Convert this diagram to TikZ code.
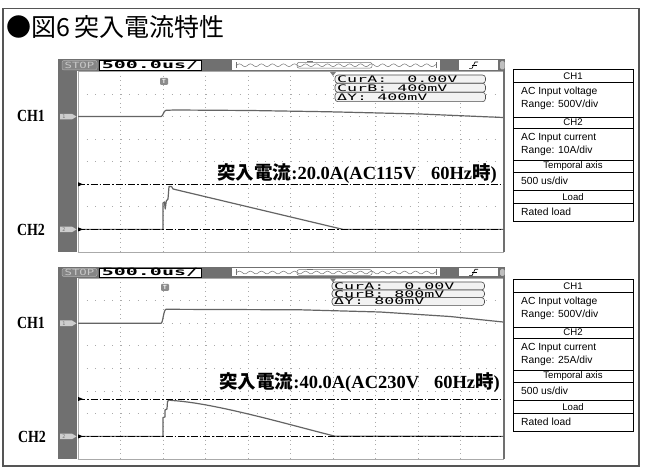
\documentclass[tikz,border=0pt]{standalone}
\usepackage{fontspec}
\usepackage{graphicx}
\setmainfont{Liberation Serif}
\newfontfamily\jpfont{Noto Sans CJK JP}
\newfontfamily\lcdfont{DejaVu Sans Mono}
\newfontfamily\tabfont{Liberation Sans}
\definecolor{frm}{RGB}{85,85,85}
\definecolor{scdark}{RGB}{112,112,112}
\definecolor{gridc}{RGB}{170,170,170}
\definecolor{trc}{RGB}{100,100,100}
\definecolor{tagc}{RGB}{205,205,205}
\definecolor{roc}{RGB}{242,242,242}
\newcommand\lcd[1]{\scalebox{1.85}[1]{\lcdfont\fontsize{9}{9}\selectfont #1}}
\newcommand\lcdb[1]{\scalebox{2.0}[1]{\lcdfont\bfseries\fontsize{10}{10}\selectfont #1}}
\newcommand\lcds[1]{\scalebox{1.45}[1]{\lcdfont\fontsize{8.5}{8.5}\selectfont #1}}
\tikzset{
  gridx/.style={gridc, line width=0.9pt, dash pattern=on 1pt off 7.5pt},
  gridy/.style={gridc, line width=0.9pt, dash pattern=on 1pt off 3.5pt},
  trace/.style={trc, line width=1.2pt, line join=round},
  cursorln/.style={black, line width=0.7pt, dash pattern=on 7pt off 2pt on 1.5pt off 2pt},
  rdbox/.style={draw=black!70, fill=roc, rounded corners=3pt, line width=0.6pt},
  rdtext/.style={inner sep=0, anchor=west},
  tabhead/.style={font=\tabfont\fontsize{9.6}{9.6}\selectfont, inner sep=0},
  tabtext/.style={font=\tabfont\fontsize{10.3}{10.3}\selectfont, inner sep=0, anchor=west},
  chlabel/.style={font=\bfseries\fontsize{17}{17}\selectfont, inner sep=0},
  inrush/.style={inner sep=0, anchor=east, font=\bfseries\fontsize{18.5}{18.5}\selectfont},
  tagnum/.style={inner sep=0, font=\lcdfont\fontsize{5}{5}\selectfont, text=black!55},
  trgmark/.style={fill=black!45, text=white, rounded corners=1pt, minimum width=8pt, minimum height=7pt, inner sep=0, font=\tabfont\bfseries\fontsize{6}{6}\selectfont}
}
% scope screen: #1 suffix, #2 bar top, #3 grid top, #4 bottom
\newcommand\scopeframe[4]{%
  \fill[white] (77,#3) rectangle (503,#4);
  \pgfmathsetmacro\scgdy{(#4-#3)/8}
  \foreach \i in {1,...,9} {\draw[gridy] ({78+42.5*\i},#3) -- ({78+42.5*\i},#4);}
  \foreach \j in {1,...,7} {\draw[gridx] (78,{#3+\scgdy*\j}) -- (503,{#3+\scgdy*\j});}
  \draw[gridc, line width=0.6pt] (78,#3) rectangle (503,#4);
  \fill[scdark] (58,#2) rectangle (77,#4);
  \fill[scdark] (58,#2) rectangle (505,#3);
  \fill[scdark] (503,#2) rectangle (505,#4);
  \pgfmathsetmacro\scbmid{(#2+#3)/2}
  \draw[draw=black!30, fill=black!48, rounded corners=2pt, line width=0.5pt] (62,#2+1.5) rectangle (97,#3-1.5);
  \node[inner sep=0, text=black!22] (stop#1) at (79.5,\scbmid) {\lcds{STOP}};
  \draw[fill=white, draw=black, line width=0.6pt] (99,#2+1) rectangle (201,#3-1);
  \node[inner sep=0] (tb#1) at (150,\scbmid) {\lcdb{500.0us/}};
  \fill[white] (232,#2+1.5) rectangle (440,#3-1.5);
  \draw[black!55, line width=0.5pt, domain=236:436, samples=300, smooth] plot (\x, {\scbmid + 1.3*sin(\x*32.7)});
  \draw[black!55, line width=0.5pt] (236,\scbmid-3) -- (236,\scbmid+3) (436,\scbmid-3) -- (436,\scbmid+3);
  \draw[black!55, line width=0.5pt, rounded corners=2pt] (297,\scbmid-2.8) rectangle (372,\scbmid+2.8);
  \draw[black!55, line width=0.6pt] (307,#2+2) -- (313,#2+2) (310,#2+2) -- (310,\scbmid-2.8);
  \fill[white] (459,#2+1.5) rectangle (498,#3-1.5);
  \draw[black, line width=0.6pt] (469,\scbmid+3.2) -- (472,\scbmid+3.2) -- (475,\scbmid-3.2) -- (478,\scbmid-3.2);
  \draw[black, line width=0.6pt] (471.8,\scbmid) -- (476.5,\scbmid);
  \fill[black!25, rounded corners=1.5pt] (500,#2+2) rectangle (504.5,#3-2);
  \fill[black!50] (330,#3+0.5) -- (336,#3+0.5) -- (333,#3+4.5) -- cycle;
}
% channel tag on the dark bar: #1 name, #2 y, #3 digit
\newcommand\chtag[3]{%
  \fill[tagc] (60,#2-2.8) -- (72,#2-2.8) -- (76.5,#2) -- (72,#2+2.8) -- (60,#2+2.8) -- cycle;
  \node[tagnum] (#1) at (64,#2) {#3};
}
% info table: #1 suffix, #2 y shift, #3 CH2 range
\newcommand\infotable[3]{%
\begin{scope}[shift={(0,#2)}]
  \foreach \yy in {82,117,128.5,160,172,190,203} {\draw[black, line width=0.8pt] (513,\yy) -- (633,\yy);}
  \draw[black, line width=1pt] (513,70) rectangle (633,222);
  \node[tabhead] (hA#1) at (573,76.3) {CH1};
  \node[tabtext] (tA#1) at (521,92) {AC Input voltage};
  \node[tabtext] (tB#1) at (521,105) {Range: 500V/div};
  \node[tabhead] (hB#1) at (573,122.6) {CH2};
  \node[tabtext] (tC#1) at (521,137.5) {AC Input current};
  \node[tabtext] (tD#1) at (521,150.5) {Range: #3};
  \node[tabhead] (hC#1) at (573,166.3) {Temporal axis};
  \node[tabtext] (tE#1) at (521,180.8) {500 us/div};
  \node[tabhead] (hD#1) at (573,196.6) {Load};
  \node[tabtext] (tF#1) at (521,212) {Rated load};
\end{scope}}
\begin{document}
\begin{tikzpicture}[x=1pt,y=-1pt]
\useasboundingbox (0,0) rectangle (646,470);
\fill[white] (0,0) rectangle (646,470);
\draw[frm, line width=1.3pt] (3,8.5) rectangle (639,466);
\node[anchor=base west, inner sep=0, font=\jpfont\fontsize{25}{25}\selectfont] (title) at (6,37) {●図6\hspace{4pt}突入電流特性};

% ---------- upper scope ----------
\scopeframe{A}{59}{71.5}{252}
\node[trgmark] (trgA) at (164,81.5) {T};
\draw[rdbox] (335,75) rectangle (485.5,83.3);
\draw[rdbox] (335,83.3) rectangle (485.5,92.3);
\draw[rdbox] (335,92.3) rectangle (485.5,101.7);
\node[rdtext] (curAa) at (337,79.4) {\lcd{CurA:~~0.00V}};
\node[rdtext] (curBa) at (337,87.9) {\lcd{CurB:~400mV}};
\node[rdtext] (dYa) at (337,97.1) {\lcd{ΔY:~400mV}};
\draw[trace] (78,116.6) -- (161,116.6) .. controls (163,116.6) and (163.5,110.5) .. (166,110.3) -- (175,110) -- (250,110.5) -- (330,111.8) -- (420,114) -- (503,117.5);
\draw[trace] (78,229.4) -- (163,229.4) -- (163,203) -- (164.5,202) -- (165.2,209) -- (166.3,201) -- (168,199) -- (169,186.5) -- (171.5,186.5) -- (173,189) -- (343,229.4) -- (503,229.4);
\coordinate (cAt0) at (78,184.3); \coordinate (cAt1) at (503,184.3);
\coordinate (cAb0) at (78,229.4); \coordinate (cAb1) at (503,229.4);
\draw[cursorln] (cAt0) -- (cAt1);
\draw[cursorln] (cAb0) -- (cAb1);
\fill (78,182.2) -- (83,184.3) -- (78,186.4) -- cycle;
\fill (78,227.3) -- (83,229.4) -- (78,231.5) -- cycle;
\chtag{tagA1}{116.6}{1}
\chtag{tagA2}{229.4}{2}
\node[inrush] (irA) at (497,174) {{\jpfont\bfseries 突入電流}:20.0A(AC115V\hspace{0.8em}60Hz{\jpfont\bfseries 時})};
\node[chlabel] (ch1a) at (31,116) {\scalebox{0.82}[1]{CH1}};
\node[chlabel] (ch2a) at (31,230) {\scalebox{0.82}[1]{CH2}};

% ---------- lower scope ----------
\scopeframe{B}{267}{278}{459}
\node[trgmark] (trgB) at (165,287.5) {T};
\draw[rdbox] (332,282) rectangle (484.5,290);
\draw[rdbox] (332,290) rectangle (484.5,297.6);
\draw[rdbox] (332,297.6) rectangle (484.5,305.6);
\node[rdtext] (curAb) at (334,286.2) {\lcd{CurA:~~0.00V}};
\node[rdtext] (curBb) at (334,293.9) {\lcd{CurB:~800mV}};
\node[rdtext] (dYb) at (334,301.7) {\lcd{ΔY:~800mV}};
\draw[trace] (78,323.3) -- (161,323.3) .. controls (163,323.3) and (163.5,309.5) .. (166,309.3) -- (300,309.8) -- (380,312) -- (450,316.5) -- (503,322);
\draw[trace] (78,436.4) -- (163,436.4) -- (163,417.5) -- (165,417) -- (165,410) -- (167,409) -- (167.5,401.5) -- (169,400) -- (172,400.5) .. controls (215,403) and (290,425) .. (335,436.2) -- (503,436.4);
\coordinate (cBt0) at (78,399); \coordinate (cBt1) at (503,399);
\coordinate (cBb0) at (78,436.4); \coordinate (cBb1) at (503,436.4);
\draw[cursorln] (cBt0) -- (cBt1);
\draw[cursorln] (cBb0) -- (cBb1);
\fill (78,396.9) -- (83,399) -- (78,401.1) -- cycle;
\fill (78,434.3) -- (83,436.4) -- (78,438.5) -- cycle;
\chtag{tagB1}{323.3}{1}
\chtag{tagB2}{436.4}{2}
\node[inrush] (irB) at (500,382.5) {{\jpfont\bfseries 突入電流}:40.0A(AC230V\hspace{0.8em}60Hz{\jpfont\bfseries 時})};
\node[chlabel] (ch1b) at (31,323) {\scalebox{0.82}[1]{CH1}};
\node[chlabel] (ch2b) at (32,437) {\scalebox{0.82}[1]{CH2}};

% ---------- tables ----------
\infotable{u}{0}{10A/div}
\infotable{l}{210}{25A/div}
\end{tikzpicture}
\end{document}
